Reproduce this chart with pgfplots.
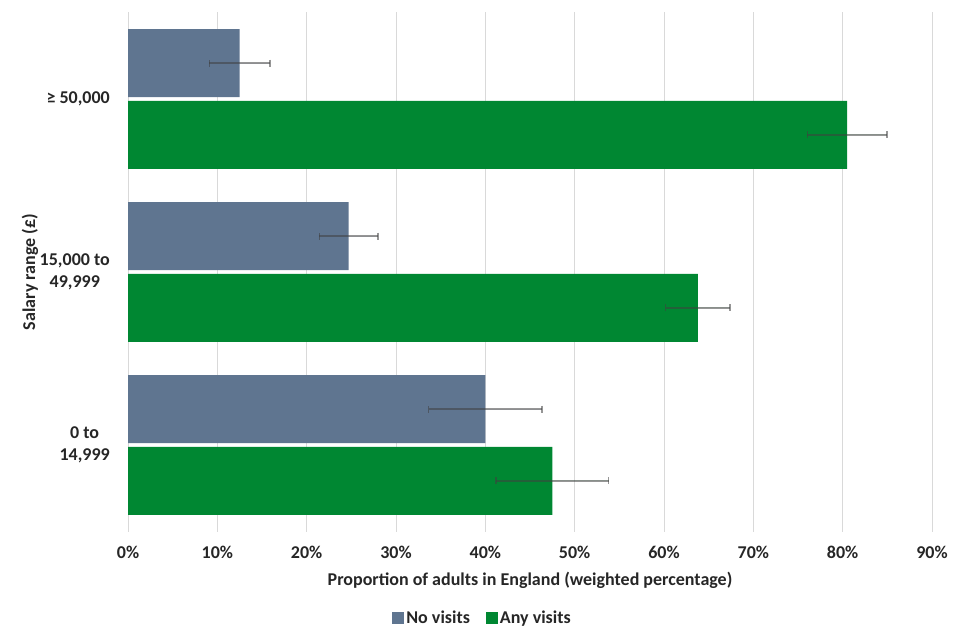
\documentclass[border=0pt]{standalone}
\usepackage{fontspec}
\setmainfont{Carlito}
\usepackage{pgfplots}
\pgfplotsset{compat=1.18}
\definecolor{novis}{HTML}{5F7590}
\definecolor{anyvis}{HTML}{008732}
\definecolor{gridc}{HTML}{D9D9D9}
\begin{document}
\begin{tikzpicture}[x=1pt,y=1pt]
\path[use as bounding box] (0,0) rectangle (960,640);
\begin{axis}[
  at={(128pt,108.5pt)}, anchor=south west,
  scale only axis, width=804pt, height=519pt,
  xbar, xmin=0, xmax=90, ymin=-0.5, ymax=2.5,
  axis line style={draw=none},
  xmajorgrids, major grid style={gridc, line width=1pt},
  xtick={0,10,...,90},
  xticklabels={0\%,10\%,20\%,30\%,40\%,50\%,60\%,70\%,80\%,90\%},
  ytick={0,1,2},
  yticklabels={{0 to\\14,999},{15,000 to\\49,999},{≥ 50,000}},
  major tick length=0pt,
  tick style={draw=none},
  /pgf/number format/assume math mode=true,
  ticklabel style={font=\fontsize{18}{21.5}\selectfont\bfseries, text=black!85},
  xticklabel style={anchor=center, inner sep=0pt, yshift=-21pt},
  yticklabel style={align=center, anchor=east, inner sep=0pt, xshift=-18pt},
  xlabel={Proportion of adults in England (weighted percentage)},
  xlabel style={at={(axis description cs:0.5,-0.0934)}, anchor=center, font=\fontsize{18}{21.5}\selectfont\bfseries, text=black!85},
  ylabel={Salary range (£)},
  ylabel style={at={(axis description cs:-0.1219,0.5)}, anchor=center, rotate=0, font=\fontsize{18}{21.5}\selectfont\bfseries, text=black!85},
  legend style={at={(axis description cs:0.441,-0.1667)}, anchor=center, draw=none, legend columns=2,
    font=\fontsize{18}{21.5}\selectfont\bfseries, text=black!85,
    /tikz/every even column/.append style={column sep=14pt}},
  legend image code/.code={\fill[#1] (2pt,-6pt) rectangle (14pt,6pt);},
  error bars/error bar style={line width=1.3pt, draw=black!75, draw opacity=0.55},
  error bars/error mark options={rotate=90, line width=1.3pt, draw=black!75, draw opacity=0.55, mark size=3.5pt},
]
\addplot[fill=novis, draw=none, bar width=0.393, bar shift=0.208,
  error bars/.cd, x dir=both, x explicit]
  coordinates {(40.0,0) +- (6.35,0) (24.7,1) +- (3.3,0) (12.5,2) +- (3.4,0)};
\addlegendentry{No visits}
\addplot[fill=anyvis, draw=none, bar width=0.393, bar shift=-0.208,
  error bars/.cd, x dir=both, x explicit]
  coordinates {(47.5,0) +- (6.3,0) (63.8,1) +- (3.6,0) (80.5,2) +- (4.45,0)};
\addlegendentry{Any visits}
\end{axis}
\end{tikzpicture}
\end{document}
